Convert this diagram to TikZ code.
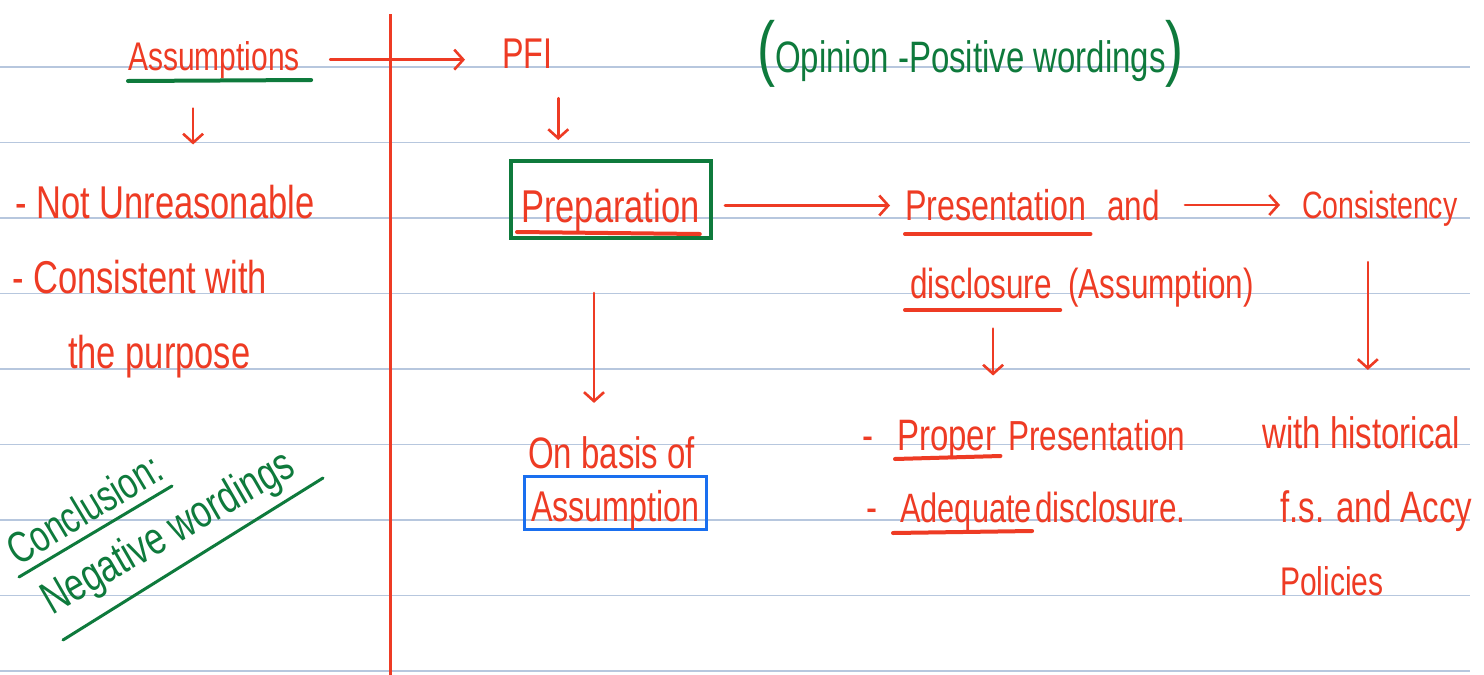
\documentclass[tikz,border=0pt]{standalone}
\usepackage{fontspec}
\setmainfont{Liberation Sans}[FakeStretch=0.75]
\usetikzlibrary{arrows.meta}
\definecolor{ink}{HTML}{EE3B24}
\definecolor{gink}{HTML}{0E7A3C}
\definecolor{bink}{HTML}{1A6FEF}
\definecolor{ruling}{HTML}{B7C7DE}
\begin{document}
\begin{tikzpicture}[x=1pt,y=-1pt,
  fs/.style={font=\fontsize{#1}{#1}\selectfont},
  txt/.style={inner sep=0pt, anchor=base west, text=ink, fs=44},
  arr/.style={draw=ink, line width=2.6pt, line cap=round, -{Straight Barb[length=9pt,width=20pt]}},
  uline/.style={draw=ink, line width=4pt, line cap=round},
  gline/.style={draw=gink, line width=3pt, line cap=round}]
\fill[white] (0,0) rectangle (1484,675);
\useasboundingbox (0,0) rectangle (1484,675);
% ruled paper
\foreach \k in {0,...,8} \draw[ruling, line width=1.5pt] (0,{67+75.5*\k}) -- (1470,{67+75.5*\k});
\draw[ink, line width=3pt] (390,14) -- (390,675);
% left column
\node[txt, fs=40] (asm) at (128,70) {Assumptions};
\draw[gline, line width=4pt] ([yshift=-11pt]asm.base west) -- ([xshift=11pt,yshift=-10pt]asm.base east);
\node[txt, fs=46] (nu) at (15,218) {- Not Unreasonable};
\node[txt, fs=46] (cw) at (12,293) {- Consistent with};
\node[txt, fs=46] (purp) at (68,368) {the purpose};
\node[inner sep=0pt, anchor=base, text=gink, fs=44, rotate=31] (conc) at (92,522) {Conclusion:};
\node[inner sep=0pt, anchor=base, text=gink, fs=46, rotate=30] (neg) at (175,545) {Negative wordings};
\draw[gline] (19,577) -- (172,486);
\draw[gline] (63,640) -- (323,478);
% right part
\node[txt, fs=43] (pfi) at (502,68) {PFI};
\node[txt, text=gink, fs=44] (opin) at (757,72) {{\fontsize{72}{72}\selectfont(}Opinion -Positive wordings{\fontsize{72}{72}\selectfont)}};
\node[txt, fs=46] (prept) at (521,222) {Preparation};
\node[draw=gink, line width=4pt, minimum width=200pt, minimum height=77pt, inner sep=0pt] (prep) at (611,199.5) {};
\draw[uline] ([xshift=-4pt,yshift=-10pt]prept.base west) -- ([yshift=-12pt]prept.base east);
\node[txt, fs=43] (pres) at (905,220) {Presentation};
\draw[uline] ([yshift=-14pt]pres.base west) -- ([xshift=4pt,yshift=-14pt]pres.base east);
\node[txt, fs=42] (and) at (1107,220) {and};
\node[txt, fs=38] (cons) at (1302,218) {Consistency};
\node[txt, fs=42] (disc) at (910,298) {disclosure};
\draw[uline] ([xshift=-5pt,yshift=-12pt]disc.base west) -- ([xshift=8pt,yshift=-12pt]disc.base east);
\node[txt, fs=42] (dasm) at (1068,298) {(Assumption)};
\node[txt, fs=44] (basis) at (528,468) {On basis of};
\node[draw=bink, line width=3pt, minimum width=182pt, minimum height=53pt, inner sep=0pt] (abox) at (615,503) {};
\node[txt, fs=43] (asmp) at (531,521) {Assumption};
\node[txt, fs=44] (pdash) at (862,450) {-};
\node[txt, fs=44] (proper) at (897,450) {Proper};
\draw[uline] ([xshift=-2pt,yshift=-9pt]proper.base west) -- ([xshift=4pt,yshift=-6pt]proper.base east);
\node[txt, fs=42] (ppres) at (1008,450) {Presentation};
\node[txt, fs=44] (adash) at (866,522) {-};
\node[txt, fs=41] (adeq) at (900,522) {Adequate};
\draw[uline] ([xshift=-7pt,yshift=-11pt]adeq.base west) -- ([yshift=-9pt]adeq.base east);
\node[txt, fs=42] (adisc) at (1035,522) {disclosure.};
\node[txt] (hist) at (1262,448) {with historical};
\node[txt] (fsacc) at (1280,522) {f.s. and Accy};
\node[txt, fs=40] (pol) at (1280,595) {Policies};
% connectors
\draw[arr, shorten <=30pt, shorten >=37pt] (asm.east) -- (asm.east -| pfi.west);
\draw[arr, shorten <=30pt, shorten >=40pt] ([xshift=-21pt]asm.south) -- ([xshift=-21pt]asm.south |- nu.north);
\draw[arr, shorten <=30pt, shorten >=19pt] ([xshift=31pt]pfi.south) -- ([xshift=31pt]pfi.south |- prep.north);
\draw[arr, shorten <=12pt, shorten >=15pt] ([yshift=-6pt]prep.east) -- ([yshift=-6pt]prep.east -| pres.west);
\draw[arr, shorten <=25pt, shorten >=22pt] (and.east) -- (and.east -| cons.west);
\draw[arr, shorten <=36pt, shorten >=46pt] ([xshift=-12pt]cons.south) -- ([xshift=-12pt]cons.south |- hist.north);
\draw[arr, shorten <=30pt, shorten >=44pt] ([xshift=12pt]disc.south) -- ([xshift=12pt]disc.south |- proper.north);
\draw[arr, shorten <=53pt, shorten >=33pt] ([xshift=-17pt]prep.south) -- ([xshift=-17pt]prep.south |- basis.north);
\end{tikzpicture}
\end{document}
